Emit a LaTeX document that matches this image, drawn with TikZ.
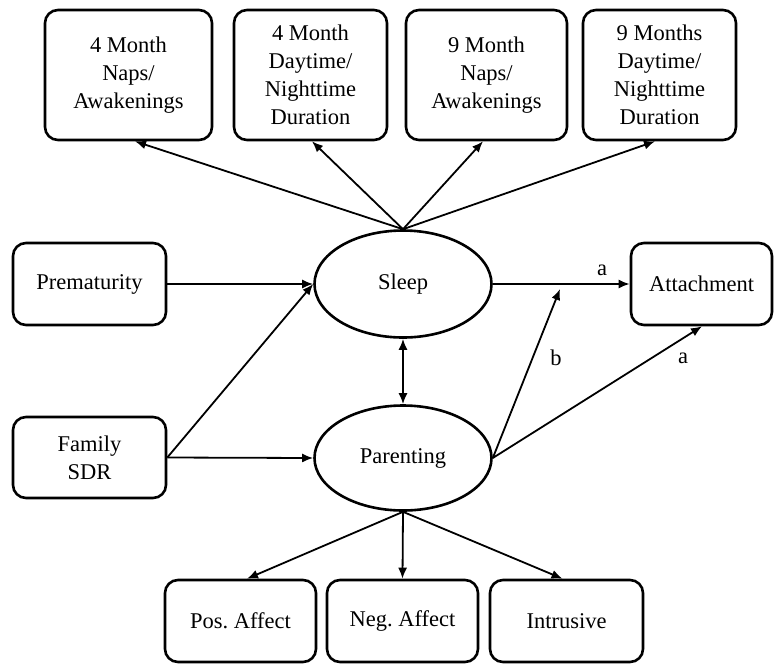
\documentclass[tikz,border=0pt]{standalone}
\usepackage{fontspec}
\setmainfont{Liberation Serif}
\usetikzlibrary{arrows.meta,shapes.geometric,calc}
\frenchspacing
\begin{document}
\begin{tikzpicture}[x=1pt,y=-1pt,
  box/.style={draw, line width=2.6pt, rounded corners=13pt, align=center, font=\fontsize{22.5}{28}\selectfont, inner sep=0pt},
  oval/.style={draw, ellipse, line width=2.6pt, inner sep=0pt, font=\fontsize{22.5}{28}\selectfont},
  arr/.style={line width=1.8pt, -{Latex[length=11pt,width=9pt]}},
  darr/.style={line width=1.8pt, {Latex[length=11pt,width=9pt]}-{Latex[length=11pt,width=9pt]}},
  lbl/.style={font=\fontsize{22.5}{28}\selectfont, inner sep=0pt}]
\useasboundingbox (0,0) rectangle (774,665);
% top boxes
\node[box, minimum width=167pt, minimum height=130pt] (b1) at (128.5,75) {4 Month\\Naps/\\Awakenings};
\node[box, minimum width=153pt, minimum height=130pt] (b2) at (310.5,75) {4 Month\\Daytime/\\Nighttime\\Duration};
\node[box, minimum width=161pt, minimum height=130pt] (b3) at (486.5,75) {9 Month\\Naps/\\Awakenings};
\node[box, minimum width=153pt, minimum height=130pt] (b4) at (659.5,75) {9 Months\\Daytime/\\Nighttime\\Duration};
% left boxes
\node[box, minimum width=153pt, minimum height=82pt] (pre) at (89.5,284) {Prematurity};
\node[box, minimum width=153pt, minimum height=81pt] (fam) at (89.5,457.5) {Family\\SDR};
% ellipses
\node[oval, minimum width=177pt, minimum height=107pt] (sleep) at (403,284) {Sleep};
\node[oval, minimum width=177pt, minimum height=105pt] (par) at (403,458) {Parenting};
% attachment
\node[box, minimum width=141pt, minimum height=82pt] (att) at (701.5,284) {Attachment};
% bottom boxes
\node[box, minimum width=151pt, minimum height=82pt] (pos) at (240.5,621) {Pos.\ Affect};
\node[box, minimum width=151pt, minimum height=82pt] (neg) at (402.5,621) {Neg.\ Affect};
\node[box, minimum width=153pt, minimum height=82pt] (intr) at (566.5,621) {Intrusive};
% arrows to top boxes
\draw[arr] (sleep.north) -- ([xshift=6.5pt]b1.south);
\draw[arr] (sleep.north) -- ([xshift=1.5pt]b2.south);
\draw[arr] (sleep.north) -- ([xshift=-3.5pt]b3.south);
\draw[arr] (sleep.north) -- ([xshift=-4.5pt]b4.south);
% left arrows
\draw[arr] (pre.east) -- (sleep.west);
\draw[arr] (fam.east) -- (sleep.west);
\draw[arr] (fam.east) -- (par.west);
% sleep-parenting
\draw[darr] (sleep.south) -- (par.north);
% to attachment
\coordinate (mid) at (560,289);
\draw[arr] (sleep.east) -- (att.west);
\draw[arr] (par.east) -- (mid);
\draw[arr] (par.east) -- ([xshift=0.5pt]att.south);
\node[lbl] (la1) at (602,270) {a};
\node[lbl] (lb) at (556,358) {b};
\node[lbl] (la2) at (683,358) {a};
% bottom arrows
\draw[arr] (par.south) -- ([xshift=6.5pt]pos.north);
\draw[arr] (par.south) -- (neg.north);
\draw[arr] (par.south) -- ([xshift=-4pt]intr.north);
\end{tikzpicture}
\end{document}
